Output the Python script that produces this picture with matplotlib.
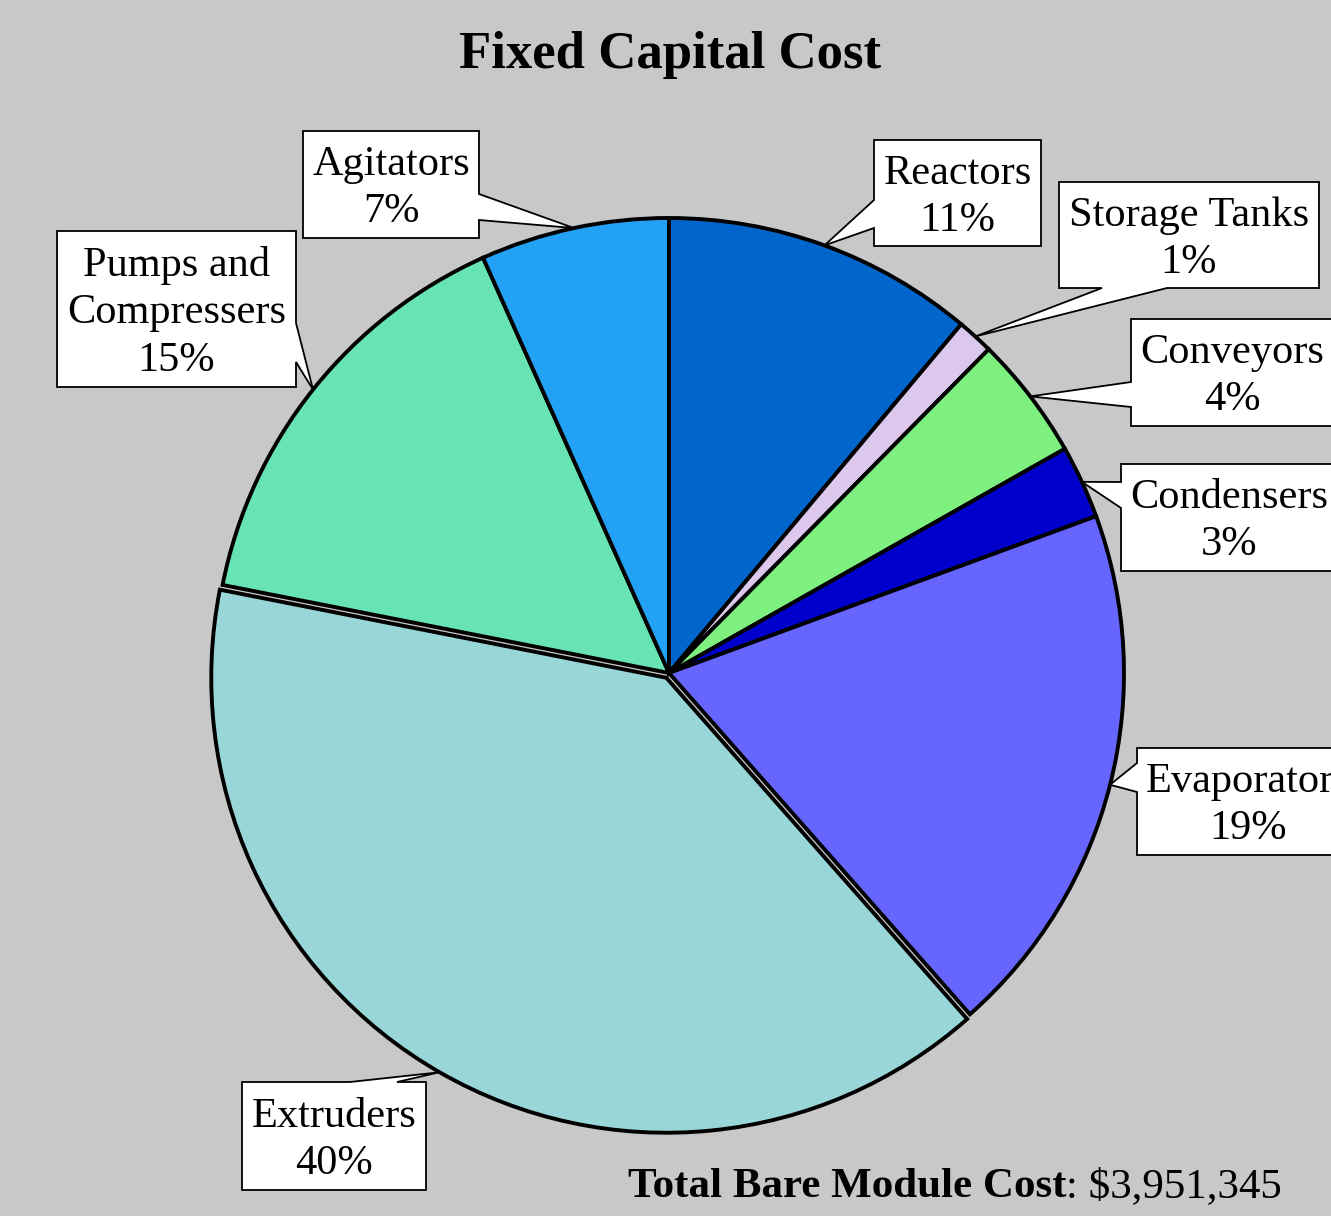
import matplotlib
matplotlib.use("Agg")
import matplotlib.pyplot as plt
from matplotlib.patches import Polygon
import numpy as np

# -- data (percent of total bare module cost) --
categories = ['Reactors', 'Storage Tanks', 'Conveyors', 'Condensers',
              'Evaporators', 'Extruders', 'Pumps and\nCompressers', 'Agitators']
shares = [11.1, 1.3, 4.4, 2.6, 19.1, 39.6, 15.2, 6.7]
total_cost = 3951345
title = 'Fixed Capital Cost'

colors = ['#0066CC', '#DCC8EC', '#7DF07F', '#0000CC',
          '#6666FF', '#99D6D8', '#68E3B3', '#23A1F5']
explode = [0, 0, 0, 0, 0, 0.012, 0, 0]

W, H = 1331, 1216
bg = '#C8C8C8'
serif = ['Liberation Serif', 'DejaVu Serif']

# callout boxes in pixels: (left, top, right, bottom), side of pointer, pointer base
callouts = [
    ((874, 140, 1041, 246), 'left', (200, 228)),
    ((1059, 182, 1319, 288), 'bottom', (1102, 1167)),
    ((1131, 319, 1333, 426), 'left', (382, 407)),
    ((1121, 464, 1337, 571), 'left', (482, 508)),
    ((1137, 748, 1359, 855), 'left', (763, 792)),
    ((242, 1082, 426, 1190), 'top', (350, 397)),
    ((57, 231, 296, 387), 'right', (323, 362)),
    ((303, 131, 479, 238), 'right', (194, 220)),
]

fig = plt.figure(figsize=(W / 100, H / 100), dpi=100, facecolor=bg)

# pie axes: centre (669, 673) px, radius 455 px
lim = 1.05
half = 455 * lim
cx, cy = 669, H - 673
ax = fig.add_axes([(cx - half) / W, (cy - half) / H, 2 * half / W, 2 * half / H])
wedges, _ = ax.pie(shares, colors=colors, startangle=90, counterclock=False,
                   explode=explode,
                   wedgeprops=dict(edgecolor='black', linewidth=2.8))
ax.set_xlim(-lim, lim)
ax.set_ylim(-lim, lim)
ax.set_aspect('equal')
ax.axis('off')

# overlay in pixel coordinates for the callouts and texts
ov = fig.add_axes([0, 0, 1, 1])
ov.set_xlim(0, W)
ov.set_ylim(H, 0)
ov.axis('off')
ov.patch.set_alpha(0)

tot = sum(shares)
for w, name, val, (box, side, base) in zip(wedges, categories, shares, callouts):
    mid = np.deg2rad((w.theta1 + w.theta2) / 2)
    px = w.center[0] + w.r * np.cos(mid)
    py = w.center[1] + w.r * np.sin(mid)
    dx, dy = ax.transData.transform((px, py))
    tip = (dx, H - dy)
    l, t, r, b = box
    b0, b1 = base
    if side == 'left':
        verts = [(l, t), (r, t), (r, b), (l, b), (l, b1), tip, (l, b0)]
    elif side == 'right':
        verts = [(l, t), (r, t), (r, b0), tip, (r, b1), (r, b), (l, b)]
    elif side == 'top':
        verts = [(l, t), (b0, t), tip, (b1, t), (r, t), (r, b), (l, b)]
    else:
        verts = [(l, t), (r, t), (r, b), (b1, b), tip, (b0, b), (l, b)]
    ov.add_patch(Polygon(verts, closed=True, facecolor='white', edgecolor='black',
                         linewidth=1.3, clip_on=False, joinstyle='miter'))
    pct = f"{round(val / tot * 100)}%"
    ov.text((l + r) / 2, (t + b) / 2 + 4, f"{name}\n{pct}", ha='center', va='center',
            multialignment='center', family=serif, fontsize=30.5, linespacing=1.3,
            clip_on=False)

ov.text(670, 68, title, ha='center', va='baseline', family=serif,
        fontsize=38, fontweight='bold')

renderer = fig.canvas.get_renderer()
t1 = ov.text(628, 1197, 'Total Bare Module Cost', ha='left', va='baseline',
             family=serif, fontsize=31, fontweight='bold')
bb = t1.get_window_extent(renderer)
ov.text(bb.x1, 1197, f": ${total_cost:,}", ha='left', va='baseline',
        family=serif, fontsize=31)

fig.savefig('out.png', dpi=100, facecolor=bg)
